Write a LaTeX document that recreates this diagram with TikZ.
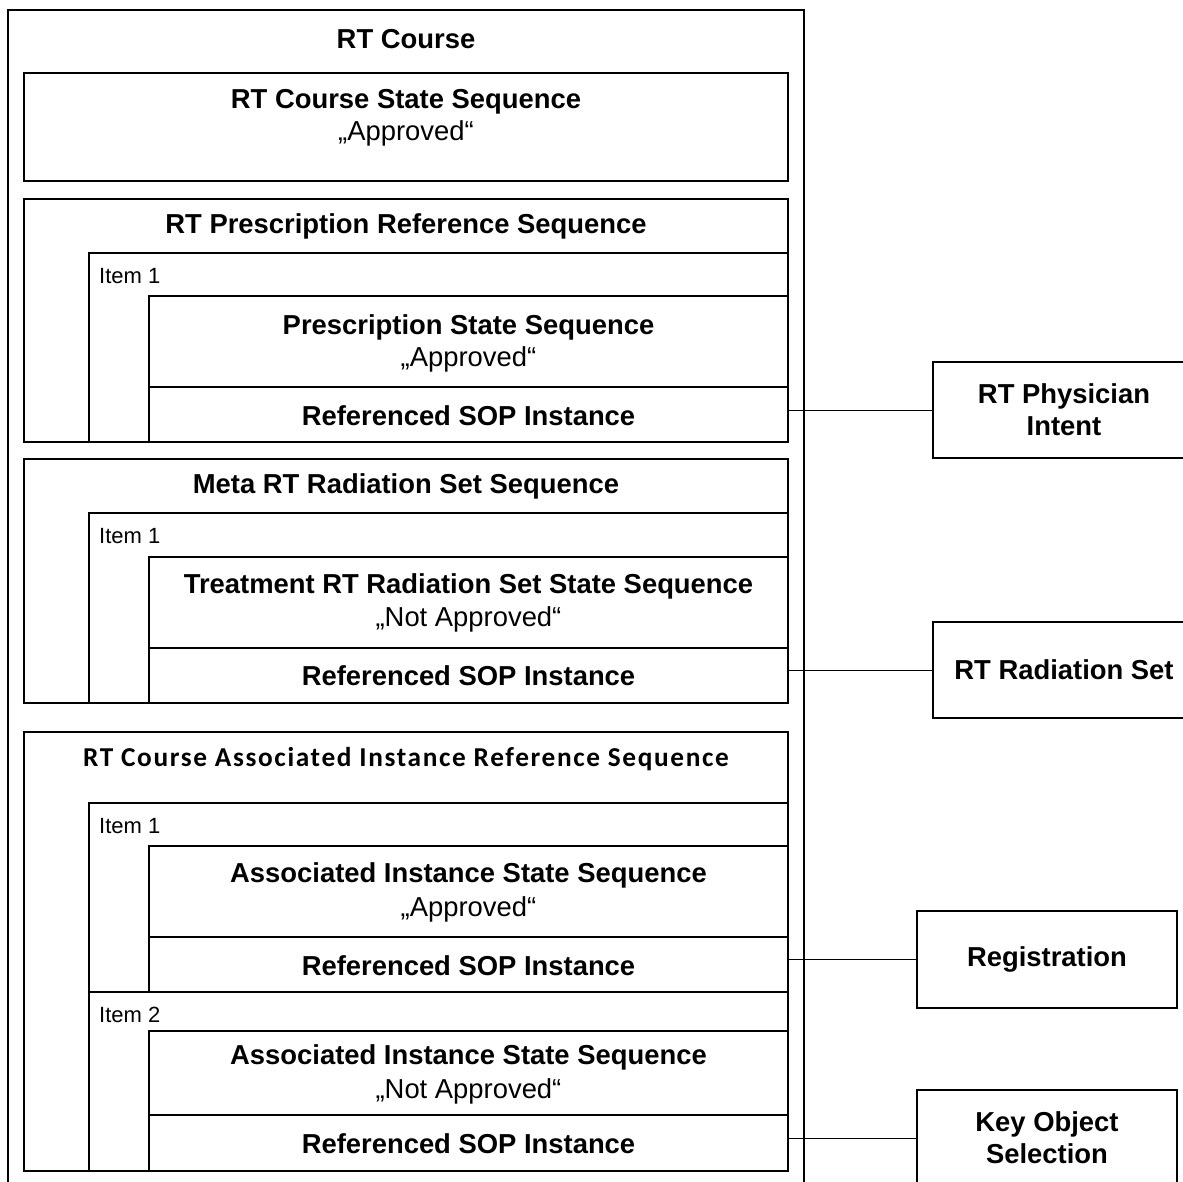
\documentclass[tikz,border=0pt]{standalone}
\usepackage{fontspec}
\setmainfont{Liberation Sans}
\newfontfamily\calibfont[LetterSpace=6]{Carlito}
\begin{document}
\begin{tikzpicture}[x=1pt,y=-1pt,
  box/.style={draw, line width=1.5pt, rectangle, inner sep=0pt, outer sep=0pt},
  conn/.style={line width=1pt},
  ttlfont/.style={font=\fontsize{27.4}{32}\selectfont\bfseries, align=center},
  ttl/.style={ttlfont, inner sep=0pt, yshift=-2.5pt},
  sub/.style={font=\fontsize{27.4}{32}\selectfont, inner sep=0pt, yshift=-2pt},
  itemlbl/.style={font=\fontsize{22}{26}\selectfont, anchor=west, inner sep=0pt},
  calibttl/.style={font=\fontsize{27.3}{32}\calibfont\bfseries, inner sep=0pt, yshift=-1pt}
]
\useasboundingbox (0,0) rectangle (1183,1181);
% outer course box
\node[box, minimum width=796pt, minimum height=1185pt] (course) at (406,602.5) {};
\node[ttl] (courseT) at (406,37) {RT Course};
% course state
\node[box, minimum width=764pt, minimum height=108pt] (A) at (406,127) {};
\node[ttl] (AT) at (406,99) {RT Course State Sequence};
\node[sub] (AS) at (406,131) {„Approved“};
% prescription reference sequence
\node[box, minimum width=764pt, minimum height=243pt] (B) at (406,320.5) {};
\node[ttl] (BT) at (406,224) {RT Prescription Reference Sequence};
\node[box, minimum width=699pt, minimum height=189pt] (B1) at (438.5,347.5) {};
\node[itemlbl] (B1T) at (99,276) {Item 1};
\node[box, minimum width=639pt, minimum height=91pt] (B2) at (468.5,341.5) {};
\node[ttl] (B2T) at (468.5,325) {Prescription State Sequence};
\node[sub] (B2S) at (468.5,357) {„Approved“};
\node[box, minimum width=639pt, minimum height=55pt] (B3) at (468.5,414.5) {};
\node[ttl] (B3T) at (468.5,413) {Referenced SOP Instance};
% meta rt radiation set sequence
\node[box, minimum width=764pt, minimum height=244pt] (C) at (406,581) {};
\node[ttl] (CT) at (406,484) {Meta RT Radiation Set Sequence};
\node[box, minimum width=699pt, minimum height=190pt] (C1) at (438.5,608) {};
\node[itemlbl] (C1T) at (99,536) {Item 1};
\node[box, minimum width=639pt, minimum height=91pt] (C2) at (468.5,602.5) {};
\node[ttl] (C2T) at (468.5,584) {Treatment RT Radiation Set State Sequence};
\node[sub] (C2S) at (468.5,617) {„Not Approved“};
\node[box, minimum width=639pt, minimum height=55pt] (C3) at (468.5,675.5) {};
\node[ttl] (C3T) at (468.5,673) {Referenced SOP Instance};
% associated instance reference sequence
\node[box, minimum width=764pt, minimum height=439pt] (D) at (406,951.5) {};
\node[calibttl] (DT) at (406,758) {RT Course Associated Instance Reference Sequence};
\node[box, minimum width=699pt, minimum height=189pt] (D1) at (438.5,897.5) {};
\node[itemlbl] (D1T) at (99,826) {Item 1};
\node[box, minimum width=639pt, minimum height=91pt] (D2) at (468.5,891.5) {};
\node[ttl] (D2T) at (468.5,873) {Associated Instance State Sequence};
\node[sub] (D2S) at (468.5,907) {„Approved“};
\node[box, minimum width=639pt, minimum height=55pt] (D3) at (468.5,964.5) {};
\node[ttl] (D3T) at (468.5,963) {Referenced SOP Instance};
\node[box, minimum width=699pt, minimum height=179pt] (D4) at (438.5,1081.5) {};
\node[itemlbl] (D4T) at (99,1015) {Item 2};
\node[box, minimum width=639pt, minimum height=84pt] (D5) at (468.5,1073) {};
\node[ttl] (D5T) at (468.5,1055) {Associated Instance State Sequence};
\node[sub] (D5S) at (468.5,1089) {„Not Approved“};
\node[box, minimum width=639pt, minimum height=56pt] (D6) at (468.5,1143) {};
\node[ttl] (D6T) at (468.5,1141) {Referenced SOP Instance};
% right boxes
\node[box, ttlfont, minimum width=262pt, minimum height=96pt] (phys) at (1064,410) {RT Physician\\Intent};
\node[box, ttlfont, minimum width=262pt, minimum height=96pt] (rad) at (1064,670) {RT Radiation Set};
\node[box, ttlfont, minimum width=260pt, minimum height=97pt] (reg) at (1047,959.5) {Registration};
\node[box, ttlfont, minimum width=260pt, minimum height=96pt] (kos) at (1047,1138) {Key Object\\Selection};
% connectors
\draw[conn] (B3.east |- phys.west) -- (phys.west);
\draw[conn] (C3.east |- rad.west) -- (rad.west);
\draw[conn] (D3.east |- reg.west) -- (reg.west);
\draw[conn] (D6.east |- kos.west) -- (kos.west);
\end{tikzpicture}
\end{document}
